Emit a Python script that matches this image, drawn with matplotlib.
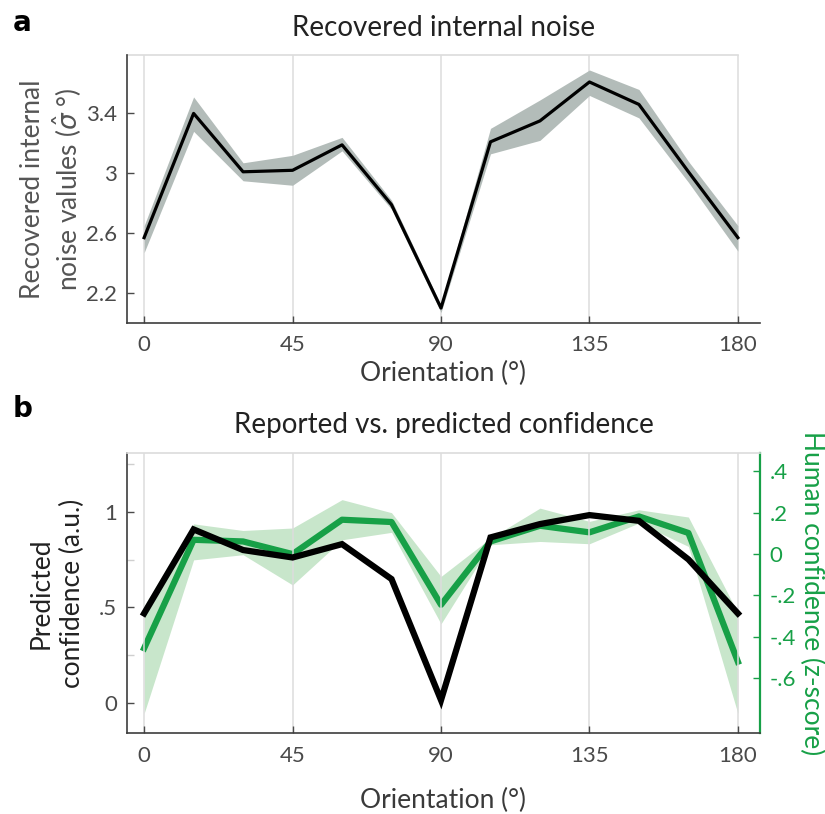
import numpy as np
import matplotlib
matplotlib.use("Agg")
import matplotlib.pyplot as plt

plt.rcParams['font.family'] = ['Lato', 'DejaVu Sans']
plt.rcParams['mathtext.fontset'] = 'dejavusans'

# orientations (deg)
orient = [0, 15, 30, 45, 60, 75, 90, 105, 120, 135, 150, 165, 180]

# panel a: recovered internal noise
noise = [2.57, 3.40, 3.01, 3.02, 3.19, 2.79, 2.10, 3.21, 3.35, 3.61, 3.46, 3.01, 2.57]
noise_lo = [2.47, 3.28, 2.95, 2.92, 3.15, 2.76, 2.07, 3.13, 3.22, 3.52, 3.37, 2.94, 2.48]
noise_hi = [2.65, 3.51, 3.07, 3.12, 3.24, 2.82, 2.12, 3.30, 3.49, 3.69, 3.56, 3.08, 2.65]

# panel b: predicted confidence (left axis)
pred = [0.468, 0.908, 0.80, 0.761, 0.831, 0.648, 0.014, 0.866, 0.936, 0.983, 0.953, 0.751, 0.468]

# panel b: human confidence z-score (right axis)
human = [-0.455, 0.069, 0.061, 0.0, 0.166, 0.155, -0.245, 0.061, 0.137, 0.105, 0.182, 0.102, -0.52]
human_lo = [-0.77, -0.028, -0.003, -0.149, 0.069, 0.105, -0.337, 0.045, 0.061, 0.050, 0.150, 0.037, -0.77]
human_hi = [-0.25, 0.146, 0.114, 0.126, 0.263, 0.20, -0.108, 0.077, 0.222, 0.158, 0.214, 0.179, -0.285]

xticks = [0, 45, 90, 135, 180]

TXT = '#3a3a3a'
TICK = '#4a4a4a'
GRID = '#dcdcdc'
SPINE = '#3d3d3d'
GREEN = '#17a047'
GREEN_BAND = '#c8e6cb'
GRAY_BAND = '#b3bcb9'

TICK_FS = 16
LABEL_FS = 19
TITLE_FS = 20

fig = plt.figure(figsize=(8.25, 8.14), dpi=100)
ax_a = fig.add_axes([0.1539, 0.6032, 0.7673, 0.3292])
ax_b = fig.add_axes([0.1539, 0.0991, 0.7673, 0.3448])


def style_axes(ax, xlabelpad):
    ax.set_xlim(-5.2, 186.7)
    ax.set_xticks(xticks)
    ax.set_xticklabels([str(t) for t in xticks])
    for t in xticks:
        ax.axvline(t, color=GRID, lw=1.1, zorder=0)
    ax.spines['left'].set_color(SPINE)
    ax.spines['bottom'].set_color(SPINE)
    ax.spines['left'].set_linewidth(1.2)
    ax.spines['bottom'].set_linewidth(1.2)
    ax.spines['right'].set_visible(False)
    ax.spines['top'].set_visible(False)
    ax.tick_params(direction='in', length=5, width=1, color=TICK,
                   labelsize=TICK_FS, labelcolor=TICK, pad=7)
    ax.tick_params(axis='x', pad=9)
    ax.set_xlabel('Orientation (°)', fontsize=LABEL_FS, color=TXT, labelpad=xlabelpad)


# ---- panel a ----
style_axes(ax_a, 4)
ax_a.set_ylim(2.0, 3.79)
ax_a.set_yticks([2.2, 2.6, 3.0, 3.4])
ax_a.set_yticklabels(['2.2', '2.6', '3', '3.4'])
ax_a.fill_between(orient, noise_lo, noise_hi, color=GRAY_BAND, lw=0, zorder=2)
ax_a.plot(orient, noise, color='black', lw=2.3, zorder=3)
ax_a.axhline(3.79, xmin=0, xmax=(180 + 5.2) / (186.7 + 5.2), color=GRID, lw=1.2, clip_on=False)
ax_a.set_ylabel('Recovered internal\nnoise valules ($\\hat{\\sigma}$ °)', fontsize=LABEL_FS,
                color='#555555', linespacing=1.2, va='center')
ax_a.yaxis.set_label_coords(-0.118, 0.5)
ax_a.set_title('Recovered internal noise', fontsize=TITLE_FS, color='#222222', pad=14)
fig.text(0.015, 0.972, 'a', fontsize=20, fontweight='bold', color='black',
         family='DejaVu Sans', va='center')

# ---- panel b ----
style_axes(ax_b, 16)
ax_b.set_ylim(-0.16, 1.31)
ax_b.set_yticks([0, 0.5, 1])
ax_b.set_yticklabels(['0', '.5', '1'])
ax_b.set_yticks([0.25, 0.75, 1.25], minor=True)
ax_b.tick_params(axis='y', which='minor', direction='in', length=5, width=1, color='#cfcfcf')
ax_b.spines['top'].set_visible(True)
ax_b.spines['top'].set_color(GRID)
ax_b.spines['top'].set_linewidth(1.2)
ax_b.set_ylabel('Predicted\nconfidence (a.u.)', fontsize=LABEL_FS, color='#222222',
                linespacing=1.3, va='center')
ax_b.yaxis.set_label_coords(-0.111, 0.5)
ax_b.set_title('Reported vs. predicted confidence', fontsize=TITLE_FS, color='#222222', pad=14)
fig.text(0.015, 0.497, 'b', fontsize=20, fontweight='bold', color='black',
         family='DejaVu Sans', va='center')

ax_h = ax_b.twinx()
ax_h.set_xlim(-5.2, 186.7)
ax_h.set_ylim(-0.866, 0.49)
ax_h.fill_between(orient, human_lo, human_hi, color=GREEN_BAND, lw=0, zorder=1)
ax_h.plot(orient, human, color=GREEN, lw=4.5, zorder=2)
ax_h.set_yticks([-0.6, -0.4, -0.2, 0, 0.2, 0.4])
ax_h.set_yticklabels(['-.6', '-.4', '-.2', '0', '.2', '.4'])
for side in ['left', 'top', 'bottom']:
    ax_h.spines[side].set_visible(False)
ax_h.spines['right'].set_color(GREEN)
ax_h.spines['right'].set_linewidth(1.6)
ax_h.tick_params(axis='y', direction='in', length=5, width=1, color=GREEN,
                 labelsize=TICK_FS, labelcolor=GREEN, pad=7)
ax_h.set_ylabel('Human confidence (z-score)', fontsize=LABEL_FS, color=GREEN,
                rotation=270, va='center')
ax_h.yaxis.set_label_coords(1.082, 0.5)

# black line above the green one
ax_b.set_zorder(ax_h.get_zorder() + 1)
ax_b.patch.set_visible(False)
ax_b.plot(orient, pred, color='black', lw=4.5, zorder=3, solid_joinstyle='miter')

fig.savefig('out.png', dpi=100)
